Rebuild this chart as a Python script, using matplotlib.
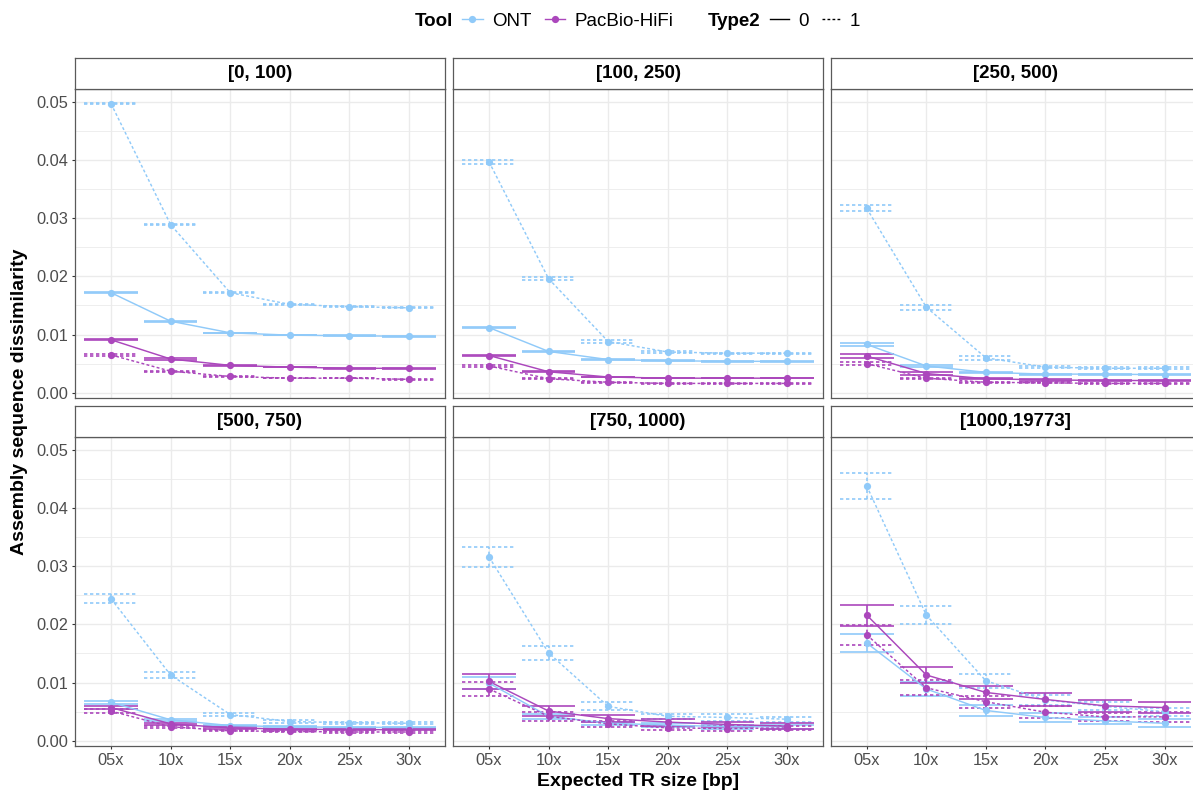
import matplotlib
matplotlib.use("Agg")
import matplotlib.pyplot as plt
from matplotlib.lines import Line2D
import numpy as np

W, H = 1193, 792

panels = ["[0, 100)", "[100, 250)", "[250, 500)",
          "[500, 750)", "[750, 1000)", "[1000,19773]"]
coverage = ["05x", "10x", "15x", "20x", "25x", "30x"]

# mean dissimilarity, one row per panel
ont_0 = [[0.0172, 0.0123, 0.0103, 0.0099, 0.0098, 0.0097],
         [0.0112, 0.0071, 0.0057, 0.0055, 0.0054, 0.0054],
         [0.0083, 0.0046, 0.0035, 0.0032, 0.0032, 0.0031],
         [0.0066, 0.0036, 0.0026, 0.0024, 0.0023, 0.0023],
         [0.0099, 0.0042, 0.0030, 0.0027, 0.0024, 0.0024],
         [0.0168, 0.0089, 0.0052, 0.0040, 0.0034, 0.0030]]
ont_1 = [[0.0497, 0.0289, 0.0172, 0.0152, 0.0148, 0.0146],
         [0.0397, 0.0196, 0.0088, 0.0070, 0.0068, 0.0068],
         [0.0317, 0.0147, 0.0060, 0.0044, 0.0042, 0.0042],
         [0.0244, 0.0113, 0.0045, 0.0033, 0.0031, 0.0030],
         [0.0316, 0.0151, 0.0059, 0.0042, 0.0040, 0.0037],
         [0.0438, 0.0216, 0.0103, 0.0070, 0.0059, 0.0050]]
pac_0 = [[0.0091, 0.0058, 0.0047, 0.0044, 0.0042, 0.0042],
         [0.0064, 0.0036, 0.0027, 0.0025, 0.0025, 0.0025],
         [0.0063, 0.0033, 0.0024, 0.0022, 0.0021, 0.0021],
         [0.0057, 0.0029, 0.0022, 0.0020, 0.0019, 0.0019],
         [0.0102, 0.0051, 0.0038, 0.0032, 0.0028, 0.0025],
         [0.0216, 0.0113, 0.0083, 0.0071, 0.0060, 0.0057]]
pac_1 = [[0.0065, 0.0037, 0.0028, 0.0025, 0.0025, 0.0023],
         [0.0046, 0.0024, 0.0018, 0.0016, 0.0016, 0.0016],
         [0.0050, 0.0025, 0.0018, 0.0017, 0.0016, 0.0016],
         [0.0051, 0.0024, 0.0017, 0.0016, 0.0015, 0.0015],
         [0.0089, 0.0042, 0.0029, 0.0022, 0.0021, 0.0022],
         [0.0182, 0.0091, 0.0067, 0.0049, 0.0041, 0.0041]]

# error bar half heights
ont_0_err = [[0.0001, 0.0001, 0.00005, 0.00005, 0.00005, 0.00005],
             [0.0001, 0.0001, 0.00005, 0.00005, 0.00005, 0.00005],
             [0.0003, 0.0002, 0.0001, 0.0001, 0.0001, 0.0001],
             [0.0003, 0.0002, 0.0001, 0.0001, 0.0001, 0.0001],
             [0.0010, 0.0004, 0.0003, 0.0003, 0.0003, 0.0003],
             [0.0015, 0.0012, 0.0009, 0.00075, 0.0006, 0.00065]]
ont_1_err = [[0.0001, 0.0001, 0.0001, 0.0001, 0.0001, 0.0001],
             [0.0003, 0.0003, 0.0002, 0.0001, 0.0001, 0.0001],
             [0.0005, 0.0004, 0.0003, 0.0002, 0.0002, 0.0002],
             [0.0008, 0.0005, 0.0002, 0.0002, 0.0002, 0.0002],
             [0.0018, 0.0012, 0.0007, 0.00045, 0.00055, 0.00045],
             [0.0023, 0.0016, 0.0012, 0.0009, 0.0007, 0.0007]]
pac_0_err = [[0.0001, 0.0001, 0.00005, 0.00005, 0.00005, 0.00005],
             [0.0001, 0.0001, 0.00005, 0.00005, 0.00005, 0.00005],
             [0.0003, 0.0002, 0.0001, 0.0001, 0.0001, 0.0001],
             [0.0003, 0.0002, 0.0001, 0.0001, 0.0001, 0.0001],
             [0.00125, 0.00085, 0.00065, 0.0006, 0.0005, 0.0005],
             [0.0018, 0.0013, 0.0011, 0.0011, 0.0010, 0.0010]]
pac_1_err = [[0.0001, 0.0001, 0.00005, 0.00005, 0.00005, 0.00005],
             [0.0001, 0.0001, 0.00005, 0.00005, 0.00005, 0.00005],
             [0.0002, 0.0001, 0.0001, 0.0001, 0.0001, 0.0001],
             [0.0004, 0.0002, 0.0001, 0.0001, 0.0001, 0.0001],
             [0.0012, 0.00075, 0.0005, 0.0004, 0.0004, 0.0004],
             [0.0017, 0.0013, 0.0010, 0.0010, 0.00075, 0.0008]]

ONT_COL = "#90CAF9"
PAC_COL = "#AB47BC"
DOT = (0, (2.0, 1.6))

series = [
    (ont_0, ont_0_err, ONT_COL, "-"),
    (ont_1, ont_1_err, ONT_COL, DOT),
    (pac_0, pac_0_err, PAC_COL, "-"),
    (pac_1, pac_1_err, PAC_COL, DOT),
]

plt.rcParams["font.family"] = ["Liberation Sans", "DejaVu Sans"]

fig = plt.figure(figsize=(W / 100, H / 100), dpi=100)

col_left = [75.3, 453.3, 831.0]
panel_w = 369.4
row_top = [89.3, 437.3]
panel_h = 309.0
strip_h = 31.0

x = np.arange(1, len(coverage) + 1)

for i, name in enumerate(panels):
    r, c = divmod(i, 3)
    left = col_left[c] / W
    bottom = 1 - (row_top[r] + panel_h) / H
    ax = fig.add_axes([left, bottom, panel_w / W, panel_h / H])

    for mean, err, col, ls in series:
        m = np.array(mean[i])
        e = np.array(err[i])
        ax.vlines(x, m - e, m + e, color=col, lw=1.2, linestyles=ls, zorder=2)
        ax.hlines(m - e, x - 0.45, x + 0.45, color=col, lw=1.2, linestyles=ls, zorder=2)
        ax.hlines(m + e, x - 0.45, x + 0.45, color=col, lw=1.2, linestyles=ls, zorder=2)
    for mean, err, col, ls in series:
        ax.plot(x, mean[i], color=col, ls=ls, lw=1.05, zorder=3)
    for mean, err, col, ls in series:
        ax.plot(x, mean[i], "o", color=col, ms=5.2, mec="none", zorder=4)

    ax.set_xlim(0.4, 6.6)
    ax.set_ylim(-0.00096, 0.05218)
    ax.set_xticks(x)
    ax.set_yticks([0, 0.01, 0.02, 0.03, 0.04, 0.05])
    ax.set_yticks(np.arange(0.005, 0.05, 0.01), minor=True)
    ax.grid(True, which="major", color="#EBEBEB", lw=1.0, zorder=0)
    ax.grid(True, which="minor", axis="y", color="#EBEBEB", lw=0.6, zorder=0)
    ax.set_axisbelow(True)
    ax.tick_params(which="minor", length=0)
    ax.tick_params(which="major", length=2.5, width=0.8, color="#333333",
                   labelsize=11.8, labelcolor="#4D4D4D", pad=2.5)

    if c == 0:
        ax.set_yticklabels([f"{v:.2f}" for v in ax.get_yticks()])
    else:
        ax.tick_params(axis="y", labelleft=False, length=0)
    if r == 1:
        ax.set_xticklabels(coverage)
    else:
        ax.tick_params(axis="x", labelbottom=False, length=0)

    for s in ax.spines.values():
        s.set_color("#5A5A5A")
        s.set_linewidth(0.9)

    # facet strip
    sax = fig.add_axes([left, 1 - row_top[r] / H, panel_w / W, strip_h / H])
    sax.set_xticks([])
    sax.set_yticks([])
    sax.set_facecolor("white")
    for s in sax.spines.values():
        s.set_color("#5A5A5A")
        s.set_linewidth(0.9)
    sax.text(0.5, 0.5, name, ha="center", va="center", fontsize=13.5,
             fontweight="bold", transform=sax.transAxes)

# axis titles
fig.text(637.9 / W, 1 - 782 / H, "Expected TR size [bp]", ha="center", va="center",
         fontsize=14, fontweight="bold")
fig.text(20 / W, 1 - 402 / H, "Assembly sequence dissimilarity", ha="center",
         va="center", rotation=90, fontsize=14, fontweight="bold")

# legend on top
ly = 1 - 21 / H
fig.text(415 / W, ly, "Tool", ha="left", va="center", fontsize=13.5, fontweight="bold")
tool_handles = [Line2D([], [], color=ONT_COL, lw=1.0, marker="o", ms=5.2, mec="none"),
                Line2D([], [], color=PAC_COL, lw=1.0, marker="o", ms=5.2, mec="none")]
fig.legend(tool_handles, ["ONT", "PacBio-HiFi"], loc="center left",
           bbox_to_anchor=(462 / W, ly), ncol=2, frameon=False, fontsize=13.5,
           handlelength=1.1, handletextpad=0.5, columnspacing=0.7,
           borderpad=0, borderaxespad=0)

fig.text(708 / W, ly, "Type2", ha="left", va="center", fontsize=13.5, fontweight="bold")
type_handles = [Line2D([], [], color="black", lw=1.0, ls="-"),
                Line2D([], [], color="black", lw=1.0, ls=DOT)]
fig.legend(type_handles, ["0", "1"], loc="center left",
           bbox_to_anchor=(770 / W, ly), ncol=2, frameon=False, fontsize=13.5,
           handlelength=1.0, handletextpad=0.5, columnspacing=0.7,
           borderpad=0, borderaxespad=0)

fig.savefig("out.png", dpi=100)
